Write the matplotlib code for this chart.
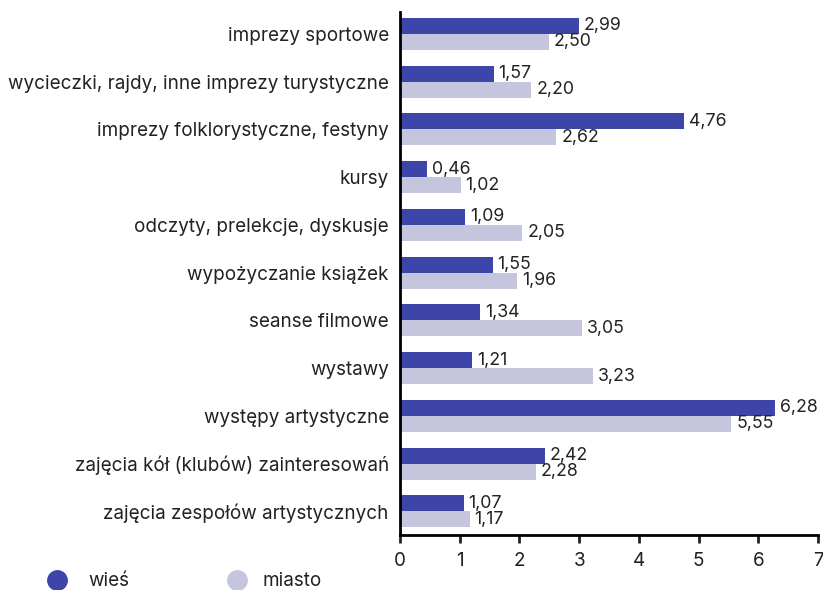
import numpy as np
import matplotlib.pyplot as plt
from matplotlib.lines import Line2D

categories = [
    'imprezy sportowe',
    'wycieczki, rajdy, inne imprezy turystyczne',
    'imprezy folklorystyczne, festyny',
    'kursy',
    'odczyty, prelekcje, dyskusje',
    'wypożyczanie książek',
    'seanse filmowe',
    'wystawy',
    'występy artystyczne',
    'zajęcia kół (klubów) zainteresowań',
    'zajęcia zespołów artystycznych',
]
wies = [2.99, 1.57, 4.76, 0.46, 1.09, 1.55, 1.34, 1.21, 6.28, 2.42, 1.07]
miasto = [2.50, 2.20, 2.62, 1.02, 2.05, 1.96, 3.05, 3.23, 5.55, 2.28, 1.17]

c_wies = '#3d45a8'
c_miasto = '#c5c5dd'
txt = '#222222'

plt.rcParams['font.family'] = ['Inter', 'DejaVu Sans']

fig = plt.figure(figsize=(8.23, 5.9), dpi=100)
ax = fig.add_axes([0.486, 0.093, 0.508, 0.887])

y = np.arange(len(categories))
h = 0.335
ax.barh(y - h / 2, wies, height=h, color=c_wies)
ax.barh(y + h / 2, miasto, height=h, color=c_miasto)

def fmt(v):
    return f'{v:.2f}'.replace('.', ',')

# value labels next to bar ends
for i in range(len(categories)):
    ax.text(wies[i] + 0.08, y[i] - h / 2, fmt(wies[i]), va='center', ha='left',
            fontsize=12.8, color=txt)
    ax.text(miasto[i] + 0.08, y[i] + h / 2, fmt(miasto[i]), va='center', ha='left',
            fontsize=12.8, color=txt)

ax.set_yticks(y)
ax.set_yticklabels(categories, fontsize=13.6, color=txt)
ax.tick_params(axis='y', length=0, pad=8)
ax.set_ylim(10.5, -0.46)
ax.set_xlim(0, 7)
ax.set_xticks(range(8))
ax.tick_params(axis='x', length=6, width=2, direction='out', labelsize=13.6,
               pad=6, colors=txt)
for s in ['top', 'right']:
    ax.spines[s].set_visible(False)
ax.spines['left'].set_linewidth(2)
ax.spines['bottom'].set_linewidth(2)

# legend drawn by hand in figure pixels
for xm, xt, col, lab in [(57, 88, c_wies, 'wieś'), (237, 262, c_miasto, 'miasto')]:
    fig.add_artist(Line2D([xm / 823], [1 - 580 / 590], marker='o', markersize=14,
                          color=col, linestyle='none', transform=fig.transFigure))
    fig.text(xt / 823, 1 - 581 / 590, lab, fontsize=13.6, va='center', ha='left',
             color=txt)

fig.savefig('out.png', dpi=100)
